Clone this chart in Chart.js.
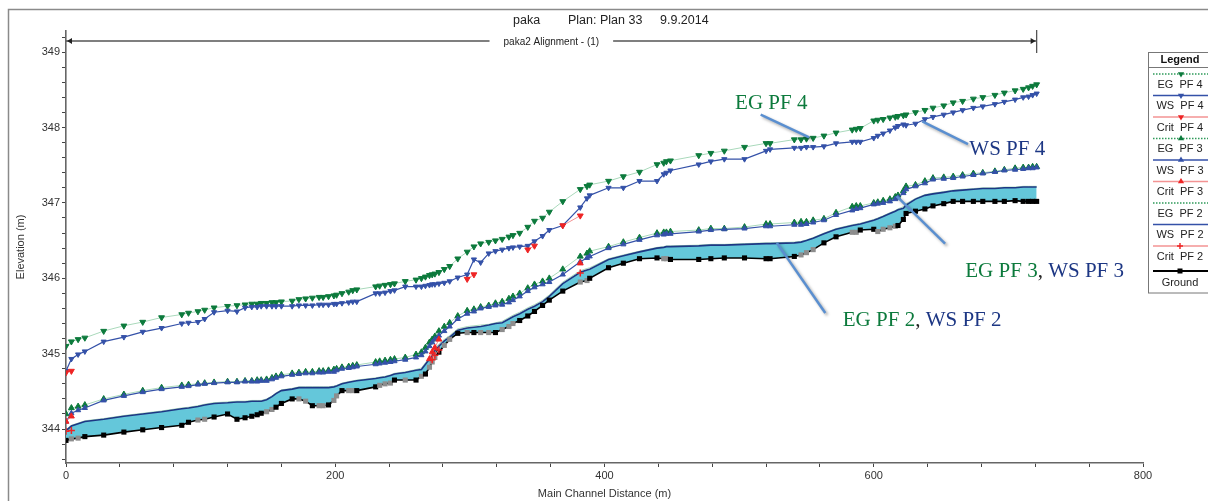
<!DOCTYPE html>
<html>
<head>
<meta charset="utf-8">
<script src="https://cdn.jsdelivr.net/npm/chart.js@4.4.1/dist/chart.umd.min.js"></script>
<style>
  html, body { margin: 0; padding: 0; background: #fff; }
  canvas { display: block; }
</style>
</head>
<body>
<canvas id="profile" width="1208" height="501"></canvas>
<script>
// cross section stations (m)
const stations = [0,4,9,14,28,43,57,71,86,91, 98,103,110,120,127,133,138,142,145,149,
  153,156,160,168,173,178,183,188,191,195, 199,201,205,210,213,216,230,233,237,241,
  244,252,260,264,267,270,272,274,277,281, 285,291,298,303,308,314,319,324,329,332,
  337,343,348,354,359,369,382,387,389,403, 414,426,439,444,446,449,470,479,489,504,
  520,523,541,546,550,555,563,572,584,587, 590,600,603,607,612,616,618,622,624,631,
  638,644,652,659,666,674,681,690,697,705, 711,715,718,721];

const ground = [343.85,343.87,343.88,343.90,343.92,343.96,343.99,344.02,344.05,344.09,
  344.12,344.13,344.16,344.20,344.13,344.15,344.17,344.19,344.21,344.23,
  344.26,344.29,344.34,344.40,344.40,344.37,344.31,344.31,344.31,344.32,
  344.38,344.44,344.51,344.51,344.51,344.51,344.56,344.58,344.60,344.61,
  344.65,344.65,344.65,344.70,344.73,344.82,344.89,344.95,345.02,345.11,
  345.19,345.27,345.28,345.28,345.28,345.28,345.28,345.32,345.36,345.40,
  345.44,345.50,345.56,345.64,345.71,345.83,345.95,345.97,346.00,346.14,
  346.20,346.26,346.27,346.26,346.26,346.25,346.25,346.26,346.27,346.27,
  346.26,346.26,346.29,346.31,346.34,346.38,346.47,346.55,346.61,346.61,
  346.64,346.65,346.62,346.65,346.67,346.69,346.70,346.78,346.86,346.89,
  346.92,346.96,346.99,347.02,347.02,347.02,347.02,347.02,347.02,347.03,
  347.02,347.02,347.02,347.02];

// 1 = interpolated section (grey marker)
const interpolated = [0,1,1,0,0,0,0,0,0,0, 1,1,0,0,0,0,0,0,0,1, 1,0,0,0,1,1,0,1,1,0,
  1,1,0,1,1,0,0,1,1,1, 0,1,0,1,0,1,1,1,0,1, 1,0,1,0,1,1,0,1,1,1, 0,0,0,0,0,0,1,1,0,0,
  0,0,0,1,1,0,0,0,0,0, 0,0,0,1,1,1,0,0,1,1, 0,0,1,1,1,1,0,0,0,0, 0,0,0,0,0,0,0,0,0,0,
  0,0,0,0];

const wsPF2 = [343.98,344.04,344.07,344.10,344.13,344.17,344.20,344.23,344.27,344.28,
  344.30,344.32,344.34,344.35,344.36,344.36,344.37,344.37,344.37,344.39,
  344.43,344.47,344.51,344.53,344.55,344.55,344.55,344.55,344.55,344.55,
  344.56,344.57,344.60,344.62,344.63,344.64,344.67,344.68,344.69,344.71,
  344.73,344.75,344.78,344.79,344.86,344.93,344.98,345.04,345.10,345.17,
  345.22,345.31,345.34,345.35,345.36,345.38,345.40,345.41,345.46,345.49,
  345.53,345.59,345.63,345.69,345.76,345.93,346.08,346.11,346.12,346.25,
  346.30,346.35,346.40,346.41,346.42,346.42,346.43,346.44,346.44,346.45,
  346.46,346.46,346.47,346.48,346.50,346.53,346.59,346.65,346.70,346.71,
  346.72,346.77,346.79,346.82,346.86,346.89,346.91,346.93,346.97,347.05,
  347.10,347.12,347.14,347.16,347.17,347.18,347.19,347.19,347.20,347.20,
  347.21,347.21,347.21,347.21];

const egPF2 = [343.99,344.05,344.08,344.11,344.14,344.18,344.21,344.24,344.28,344.29,
  344.31,344.33,344.35,344.36,344.37,344.37,344.38,344.38,344.38,344.40,
  344.44,344.48,344.52,344.54,344.56,344.56,344.56,344.56,344.56,344.56,
  344.57,344.58,344.61,344.63,344.64,344.65,344.68,344.69,344.70,344.72,
  344.74,344.76,344.79,344.81,344.88,344.95,345.01,345.07,345.13,345.19,
  345.24,345.33,345.36,345.37,345.38,345.39,345.41,345.43,345.48,345.51,
  345.55,345.61,345.65,345.71,345.78,345.95,346.10,346.13,346.14,346.26,
  346.31,346.36,346.41,346.42,346.43,346.43,346.44,346.45,346.45,346.46,
  346.47,346.47,346.48,346.49,346.51,346.54,346.60,346.66,346.71,346.72,
  346.73,346.78,346.80,346.83,346.87,346.90,346.92,346.95,346.99,347.06,
  347.11,347.13,347.15,347.17,347.18,347.19,347.20,347.20,347.21,347.21,
  347.22,347.22,347.22,347.22];

const wsPF3 = [344.10,344.21,344.25,344.28,344.38,344.44,344.49,344.53,344.56,344.57,
  344.59,344.60,344.61,344.62,344.62,344.63,344.63,344.63,344.64,344.64,
  344.66,344.68,344.70,344.72,344.73,344.74,344.74,344.75,344.75,344.76,
  344.76,344.78,344.80,344.81,344.82,344.83,344.86,344.87,344.88,344.89,
  344.90,344.92,344.95,344.98,345.03,345.10,345.15,345.19,345.24,345.30,
  345.36,345.46,345.53,345.56,345.60,345.62,345.64,345.65,345.68,345.71,
  345.76,345.83,345.88,345.92,345.95,346.05,346.22,346.27,346.29,346.40,
  346.45,346.51,346.57,346.58,346.59,346.59,346.62,346.64,346.65,346.66,
  346.69,346.69,346.71,346.71,346.72,346.74,346.77,346.84,346.90,346.92,
  346.93,346.98,346.99,347.00,347.02,347.05,347.07,347.13,347.18,347.22,
  347.26,347.31,347.32,347.33,347.35,347.37,347.39,347.41,347.43,347.44,
  347.45,347.46,347.46,347.47];

const egPF3 = [344.20,344.28,344.30,344.32,344.40,344.46,344.51,344.55,344.58,344.59,
  344.60,344.61,344.62,344.63,344.63,344.64,344.64,344.65,344.65,344.66,
  344.68,344.70,344.72,344.74,344.75,344.76,344.76,344.77,344.77,344.78,
  344.79,344.80,344.82,344.83,344.84,344.85,344.89,344.90,344.91,344.92,
  344.93,344.95,344.99,345.02,345.08,345.15,345.19,345.23,345.30,345.36,
  345.41,345.50,345.57,345.59,345.62,345.64,345.67,345.69,345.73,345.76,
  345.80,345.87,345.92,345.96,346.00,346.12,346.29,346.33,346.36,346.42,
  346.48,346.54,346.60,346.61,346.61,346.62,346.64,346.66,346.66,346.68,
  346.72,346.72,346.74,346.75,346.75,346.77,346.79,346.87,346.95,346.96,
  346.96,347.00,347.01,347.03,347.05,347.08,347.10,347.16,347.22,347.24,
  347.29,347.33,347.34,347.35,347.37,347.39,347.40,347.42,347.44,347.46,
  347.47,347.47,347.48,347.48];

const wsPF4 = [344.77,344.93,344.99,345.03,345.16,345.22,345.29,345.34,345.40,345.41,
  345.42,345.46,345.55,345.57,345.56,345.61,345.62,345.62,345.63,345.63,
  345.63,345.63,345.63,345.63,345.64,345.64,345.64,345.65,345.65,345.65,
  345.66,345.66,345.67,345.68,345.69,345.69,345.80,345.80,345.81,345.83,
  345.84,345.89,345.89,345.89,345.90,345.91,345.92,345.92,345.93,345.94,
  345.96,346.01,346.05,346.25,346.21,346.33,346.36,346.38,346.40,346.41,
  346.42,346.43,346.49,346.56,346.64,346.70,346.94,347.06,347.10,347.20,
  347.20,347.29,347.29,347.38,347.40,347.43,347.51,347.55,347.58,347.58,
  347.69,347.71,347.73,347.73,347.74,347.74,347.75,347.79,347.81,347.81,
  347.81,347.86,347.89,347.92,347.96,348.00,348.02,348.04,348.03,348.05,
  348.11,348.14,348.17,348.20,348.23,348.26,348.28,348.31,348.34,348.37,
  348.40,348.41,348.43,348.45];

const egPF4 = [345.10,345.16,345.19,345.21,345.30,345.37,345.42,345.48,345.52,345.54,
  345.56,345.58,345.61,345.63,345.64,345.65,345.66,345.66,345.67,345.67,
  345.68,345.68,345.69,345.70,345.72,345.73,345.74,345.75,345.75,345.76,
  345.77,345.78,345.80,345.82,345.84,345.85,345.89,345.90,345.91,345.92,
  345.93,345.96,345.98,346.00,346.02,346.04,346.05,346.06,346.08,346.12,
  346.16,346.26,346.35,346.42,346.46,346.48,346.50,346.52,346.55,346.57,
  346.60,346.68,346.76,346.80,346.88,347.02,347.18,347.22,347.24,347.29,
  347.35,347.41,347.51,347.53,347.55,347.56,347.63,347.66,347.69,347.74,
  347.79,347.79,347.84,347.84,347.85,347.86,347.89,347.93,347.97,347.98,
  347.99,348.09,348.10,348.11,348.13,348.14,348.15,348.16,348.17,348.20,
  348.23,348.26,348.29,348.33,348.35,348.38,348.40,348.43,348.46,348.49,
  348.51,348.53,348.55,348.57];

// critical depth only exists at a few sections
const critPF4At = [0, 4, 298, 303, 343, 348, 369, 382];
const critPF4 = [344.75, 344.77, 345.99, 346.05, 346.38, 346.43, 346.70, 346.83];
const critPF3At = [0, 4, 270, 272, 274, 277, 382];
const critPF3 = [344.10, 344.17, 344.93, 345.02, 345.08, 345.19, 346.20];
const critPF2At = [0, 4, 272, 274, 277, 382];
const critPF2 = [343.97, 343.98, 344.92, 344.98, 345.05, 346.07];

const xLabels = [0, 200, 400, 600, 800];
const yLabels = [344, 345, 346, 347, 348, 349];

const GREEN = '#0c7a3c';
const EG_LINE = '#a9d9bb';
const BLUE = '#3451a8';
const NAVY = '#1d3784';
const RED = '#ee2424';
const RED_LINE = '#f39393';
const CYAN = '#64c7da';
const FONT = '"Liberation Sans", Arial, sans-serif';
const SERIF = '"Liberation Serif", "Times New Roman", serif';

function series(values) {
  return stations.map((s, i) => ({ x: s, y: values[i] }));
}
function sparse(at, values) {
  return stations.map((s) => {
    const k = at.indexOf(s);
    return { x: s, y: k < 0 ? null : values[k] };
  });
}

const datasets = [
  { label: 'EG  PF 4', data: series(egPF4), borderColor: EG_LINE, borderWidth: 1,
    pointStyle: 'triangle', pointRotation: 180, pointRadius: 3.4, pointBorderWidth: 1,
    pointBackgroundColor: GREEN, pointBorderColor: GREEN, order: 3 },
  { label: 'WS  PF 4', data: series(wsPF4), borderColor: BLUE, borderWidth: 1.2,
    pointStyle: 'triangle', pointRotation: 180, pointRadius: 3, pointBorderWidth: 1,
    pointBackgroundColor: BLUE, pointBorderColor: BLUE, order: 2 },
  { label: 'Crit  PF 4', data: sparse(critPF4At, critPF4), borderColor: RED_LINE, borderWidth: 1,
    pointStyle: 'triangle', pointRotation: 180, pointRadius: 3.4, pointBorderWidth: 1,
    pointBackgroundColor: RED, pointBorderColor: RED, order: 0 },
  { label: 'EG  PF 3', data: series(egPF3), borderColor: EG_LINE, borderWidth: 1,
    pointStyle: 'triangle', pointRadius: 3.4, pointBorderWidth: 1,
    pointBackgroundColor: GREEN, pointBorderColor: GREEN, order: 3 },
  { label: 'WS  PF 3', data: series(wsPF3), borderColor: BLUE, borderWidth: 1.2,
    pointStyle: 'triangle', pointRadius: 3, pointBorderWidth: 1,
    pointBackgroundColor: BLUE, pointBorderColor: BLUE, order: 2 },
  { label: 'Crit  PF 3', data: sparse(critPF3At, critPF3), borderColor: RED_LINE, borderWidth: 1,
    pointStyle: 'triangle', pointRadius: 3.4, pointBorderWidth: 1,
    pointBackgroundColor: RED, pointBorderColor: RED, order: 0 },
  { label: 'EG  PF 2', data: series(egPF2), borderColor: EG_LINE, borderWidth: 1,
    pointRadius: 0, order: 5 },
  { label: 'WS  PF 2', data: series(wsPF2), borderColor: NAVY, borderWidth: 1.6,
    pointRadius: 0, backgroundColor: CYAN, fill: { target: 9, above: CYAN, below: CYAN }, order: 4 },
  { label: 'Crit  PF 2', data: sparse(critPF2At, critPF2), borderColor: RED_LINE, borderWidth: 1,
    pointStyle: 'cross', pointRadius: 3.5, pointBorderWidth: 1.5,
    pointBorderColor: RED, order: 0 },
  { label: 'Ground', data: series(ground), borderColor: '#000', borderWidth: 1.6,
    pointStyle: 'rect', pointRadius: 3.6, pointBorderWidth: 0,
    pointBackgroundColor: interpolated.map((f) => (f ? '#8d8d8d' : '#000')), order: 1 }
];

function triangle(ctx, x, y, r, down, color) {
  const h = down ? -1 : 1;
  ctx.beginPath();
  ctx.moveTo(x, y - h * r);
  ctx.lineTo(x - r * 0.87, y + h * r * 0.5);
  ctx.lineTo(x + r * 0.87, y + h * r * 0.5);
  ctx.closePath();
  ctx.fillStyle = color;
  ctx.fill();
}

const decorations = {
  id: 'decorations',
  afterDraw(chart) {
    const ctx = chart.ctx;
    const xs = chart.scales.x;
    const ys = chart.scales.y;
    ctx.save();

    // outer frame
    ctx.strokeStyle = '#8a8a8a';
    ctx.lineWidth = 1.5;
    ctx.beginPath();
    ctx.moveTo(8.5, 501);
    ctx.lineTo(8.5, 9.5);
    ctx.lineTo(1208, 9.5);
    ctx.stroke();

    // title
    ctx.fillStyle = '#222';
    ctx.font = '12.5px ' + FONT;
    ctx.textBaseline = 'middle';
    ctx.textAlign = 'left';
    ctx.fillText('paka', 513, 21);
    ctx.fillText('Plan: Plan 33', 568, 21);
    ctx.fillText('9.9.2014', 660, 21);

    // reach extent arrow
    const x0 = xs.getPixelForValue(stations[0]);
    const x1 = xs.getPixelForValue(stations[stations.length - 1]);
    const ya = 41;
    const sub = 'paka2 Alignment - (1)';
    ctx.font = '10px ' + FONT;
    const tw = ctx.measureText(sub).width;
    const mid = (x0 + x1) / 2;
    ctx.strokeStyle = '#555';
    ctx.lineWidth = 1.3;
    ctx.beginPath();
    ctx.moveTo(x0, ya); ctx.lineTo(mid - tw / 2 - 14, ya);
    ctx.moveTo(mid + tw / 2 + 14, ya); ctx.lineTo(x1, ya);
    ctx.moveTo(x1, 30); ctx.lineTo(x1, 53);
    ctx.stroke();
    ctx.fillStyle = '#222';
    ctx.beginPath();
    ctx.moveTo(x0 + 1, ya); ctx.lineTo(x0 + 6, ya - 3); ctx.lineTo(x0 + 6, ya + 3); ctx.closePath();
    ctx.moveTo(x1 - 1, ya); ctx.lineTo(x1 - 6, ya - 3); ctx.lineTo(x1 - 6, ya + 3); ctx.closePath();
    ctx.fill();
    ctx.textAlign = 'center';
    ctx.fillText(sub, mid, ya + 1);

    // callouts
    const callouts = [
      { parts: [['EG PF 4', GREEN]], at: [497, 348.32], from: [516, 348.17], to: [552, 347.87] },
      { parts: [['WS PF 4', NAVY]], at: [671, 347.71], from: [670, 347.78], to: [636, 348.08] },
      { parts: [['EG PF 3', GREEN], [', ', '#222'], ['WS PF 3', NAVY]], at: [668, 346.09], from: [653, 346.46], to: [617, 347.09] },
      { parts: [['EG PF 2', GREEN], [', ', '#222'], ['WS PF 2', NAVY]], at: [577, 345.44], from: [564, 345.54], to: [528, 346.47] }
    ];
    callouts.forEach((c) => {
      ctx.save();
      ctx.strokeStyle = '#5a8fd0';
      ctx.lineWidth = 2.5;
      ctx.shadowColor = 'rgba(0,0,0,0.35)';
      ctx.shadowBlur = 3;
      ctx.shadowOffsetX = 2;
      ctx.shadowOffsetY = 2;
      ctx.beginPath();
      ctx.moveTo(xs.getPixelForValue(c.from[0]), ys.getPixelForValue(c.from[1]));
      ctx.lineTo(xs.getPixelForValue(c.to[0]), ys.getPixelForValue(c.to[1]));
      ctx.stroke();
      ctx.restore();
      ctx.font = '21px ' + SERIF;
      ctx.textAlign = 'left';
      ctx.textBaseline = 'middle';
      let tx = xs.getPixelForValue(c.at[0]);
      const ty = ys.getPixelForValue(c.at[1]);
      c.parts.forEach(([t, col]) => {
        ctx.fillStyle = col;
        ctx.fillText(t, tx, ty);
        tx += ctx.measureText(t).width;
      });
    });

    // legend box
    const lx = 1148.5, lt = 52.5, lr = 1212, lb = 293;
    ctx.strokeStyle = '#777';
    ctx.lineWidth = 1;
    ctx.strokeRect(lx, lt, lr - lx, lb - lt);
    ctx.beginPath();
    ctx.moveTo(lx, 67.5); ctx.lineTo(lr, 67.5);
    ctx.stroke();
    const cx = 1180;
    ctx.fillStyle = '#111';
    ctx.font = 'bold 11px ' + FONT;
    ctx.textAlign = 'center';
    ctx.fillText('Legend', cx, 59.5);
    ctx.font = '11px ' + FONT;
    datasets.forEach((d, i) => {
      const isGround = d.label === 'Ground';
      const ly = isGround ? 271 : 74 + i * 21.5;
      const ty = isGround ? 283 : 84.5 + i * 21.5;
      const kind = d.label.slice(0, 2);
      ctx.save();
      ctx.beginPath();
      ctx.moveTo(1153, ly); ctx.lineTo(1210, ly);
      if (kind === 'EG') {
        ctx.strokeStyle = '#2f9a5a';
        ctx.setLineDash([1.5, 1.5]);
        ctx.lineWidth = 1.3;
      } else if (kind === 'WS') {
        ctx.strokeStyle = BLUE; ctx.lineWidth = 1.3;
      } else if (kind === 'Cr') {
        ctx.strokeStyle = RED_LINE; ctx.lineWidth = 1.3;
      } else {
        ctx.strokeStyle = '#000'; ctx.lineWidth = 2.2;
      }
      ctx.stroke();
      ctx.restore();
      const col = d.pointBorderColor || '#000';
      if (d.pointStyle === 'triangle') {
        triangle(ctx, cx + 1, ly, 3.6, d.pointRotation === 180, col);
      } else if (d.pointStyle === 'cross') {
        ctx.strokeStyle = RED; ctx.lineWidth = 1.4;
        ctx.beginPath();
        ctx.moveTo(cx - 3, ly); ctx.lineTo(cx + 3, ly);
        ctx.moveTo(cx, ly - 3); ctx.lineTo(cx, ly + 3);
        ctx.stroke();
      } else if (isGround) {
        ctx.fillStyle = '#000';
        ctx.fillRect(cx - 2.5, ly - 2.5, 5, 5);
      }
      ctx.fillStyle = '#222';
      ctx.fillText(d.label, cx, ty);
    });

    ctx.restore();
  }
};

new Chart(document.getElementById('profile'), {
  type: 'line',
  data: { datasets: datasets },
  options: {
    responsive: false,
    animation: false,
    devicePixelRatio: 1,
    layout: { padding: { left: 0, right: 65, top: 31, bottom: 0 } },
    elements: { line: { tension: 0 } },
    plugins: { legend: { display: false }, tooltip: { enabled: false } },
    scales: {
      x: {
        type: 'linear', min: 0, max: 800,
        afterFit: (scale) => { scale.height = 38; },
        ticks: {
          stepSize: 40, autoSkip: false, maxRotation: 0, padding: 2,
          color: '#333', font: { family: FONT, size: 11 },
          callback: (v) => (xLabels.includes(v) ? String(v) : '')
        },
        grid: { drawOnChartArea: false, drawTicks: true, tickLength: 4, color: '#444' },
        border: { display: true, color: '#666', width: 1.6 },
        title: { display: true, text: 'Main Channel Distance (m)', color: '#333',
          font: { family: FONT, size: 11 }, padding: { top: -2, bottom: 0 } }
      },
      y: {
        type: 'linear', min: 343.55, max: 349.28,
        afterFit: (scale) => { scale.width = 66; },
        ticks: {
          stepSize: 0.2, autoSkip: false, includeBounds: false, padding: 2,
          color: '#333', font: { family: FONT, size: 11 },
          callback: (v) => {
            const r = Math.round(v);
            return Math.abs(v - r) < 1e-6 && yLabels.includes(r) ? String(r) : '';
          }
        },
        grid: { drawOnChartArea: false, drawTicks: true, tickLength: 4, color: '#444' },
        border: { display: true, color: '#666', width: 1.6 },
        title: { display: true, text: 'Elevation (m)', color: '#333',
          font: { family: FONT, size: 11 }, padding: { top: 14, bottom: 0 } }
      }
    }
  },
  plugins: [decorations]
});
</script>
</body>
</html>
